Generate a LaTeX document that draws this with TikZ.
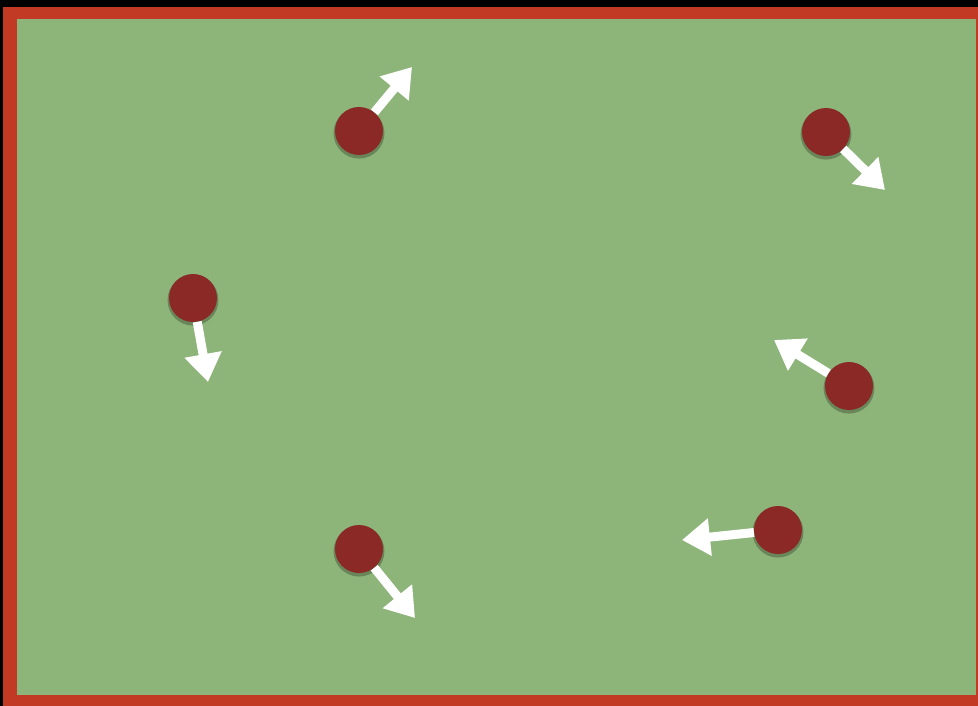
\documentclass[tikz,border=0pt]{standalone}
\usetikzlibrary{arrows.meta,shadows}
\definecolor{fieldgreen}{RGB}{141,180,121}
\definecolor{framered}{RGB}{194,57,36}
\definecolor{ballred}{RGB}{139,41,38}
\tikzset{
	ball/.style={circle, fill=ballred, minimum size=48pt, inner sep=0pt,
		drop shadow={fill=black, opacity=0.25, shadow scale=1.06, shadow xshift=0pt, shadow yshift=-2pt}},
	velarr/.style={-{Triangle[width=36pt,length=28pt]}, line width=9pt, white}
}
\begin{document}
\begin{tikzpicture}[x=1pt,y=-1pt]
	% frame and field
	\fill[black] (0,0) rectangle (978,706);
	\fill[framered] (3,7) rectangle (978,706);
	\fill[fieldgreen] (17,19) rectangle (976,695);
	% balls
	\node[ball] (b1) at (359,131) {};
	\node[ball] (b2) at (826,132) {};
	\node[ball] (b3) at (193,298) {};
	\node[ball] (b4) at (849,386) {};
	\node[ball] (b5) at (359,549) {};
	\node[ball] (b6) at (778,530) {};
	% velocity tips
	\coordinate (v1) at (412,67);
	\coordinate (v2) at (885,190);
	\coordinate (v3) at (208,382);
	\coordinate (v4) at (774,340);
	\coordinate (v5) at (415,618);
	\coordinate (v6) at (682,540);
	\foreach \i in {1,...,6}
		\draw[velarr] (b\i) -- (v\i);
\end{tikzpicture}
\end{document}
